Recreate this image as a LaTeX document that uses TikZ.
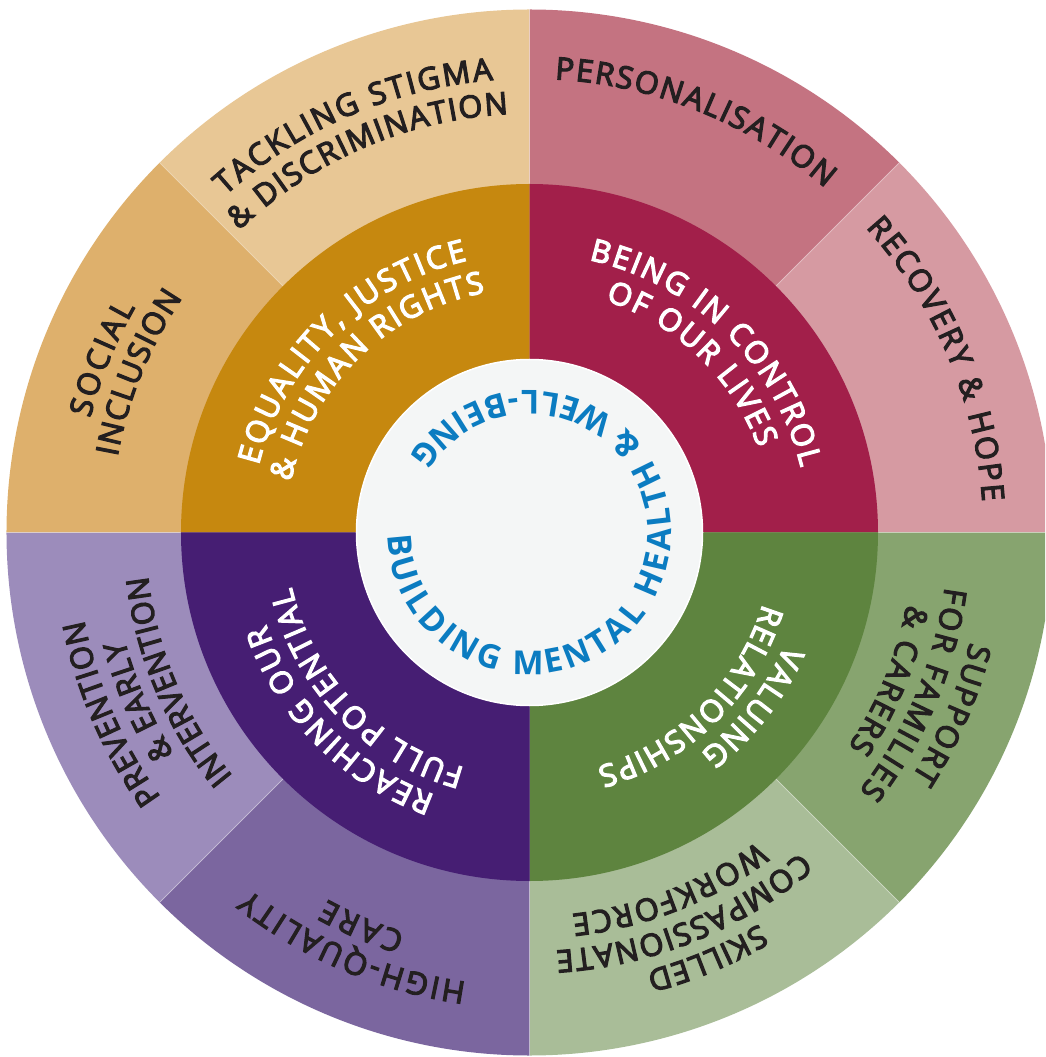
\documentclass[tikz,border=0pt]{standalone}
\usepackage{fontspec}
\usetikzlibrary{decorations.text}
\newfontfamily\labfont{Open Sans}[FakeBold=4]
\newfontfamily\cenfont{Open Sans}
\newcommand\lf{\labfont\fontsize{30.8}{36}\selectfont}
\newcommand\cf{\cenfont\bfseries\fontsize{33}{40}\selectfont}
\definecolor{cTack}{HTML}{E8C795}
\definecolor{cSoc}{HTML}{DEB06C}
\definecolor{cPers}{HTML}{C47381}
\definecolor{cRec}{HTML}{D69AA2}
\definecolor{cSup}{HTML}{87A46F}
\definecolor{cSkill}{HTML}{A9BD98}
\definecolor{cHigh}{HTML}{7B669F}
\definecolor{cPrev}{HTML}{9C8CBB}
\definecolor{cEq}{HTML}{C6880F}
\definecolor{cBeing}{HTML}{A21F4A}
\definecolor{cVal}{HTML}{5E843F}
\definecolor{cReach}{HTML}{461E73}
\definecolor{cCentre}{HTML}{F4F6F6}
\definecolor{cBlue}{HTML}{0B7CC1}
\definecolor{cDark}{HTML}{231F20}
\newlength\twid
% clockwise text, tops outward, spread between two angles
% #1 baseline radius, #2 start angle, #3 end angle, #4 colour, #5 format, #6 text
\newcommand\clab[6]{%
  \settowidth\twid{#5#6}%
  \pgfmathsetmacro\cmid{(#2+#3)/2}%
  \pgfmathsetmacro\chalf{max(abs(#2-#3)/2,0.5*\twid/#1*57.29578+0.3)}%
  \pgfmathsetmacro\cs{\cmid+\chalf}%
  \pgfmathsetmacro\ce{\cmid-\chalf}%
  \path[decorate,decoration={text along path,text align={fit to path},
        text color=#4,text={|#5|#6}}]
    (\cs:#1pt) arc[start angle=\cs,end angle=\ce,radius=#1pt];}
\tikzset{divider/.style={draw=white,draw opacity=.35,line width=.8pt}}
\begin{document}
\begin{tikzpicture}
\useasboundingbox (-529.5pt,-524.5pt) rectangle (515.5pt,532.5pt);
\clip (-529.5pt,-524.5pt) rectangle (515.5pt,532.5pt);
% outer ring
\foreach \a/\c in {90/cTack,45/cPers,0/cRec,-45/cSup,-90/cSkill,-135/cHigh,-180/cPrev,135/cSoc}
  \fill[\c] (0,0) -- (\a:523pt) arc[start angle=\a,end angle=\a+45,radius=523pt] -- cycle;
\foreach \a in {0,45,...,315}
  \draw[divider] (\a:348.5pt) -- (\a:523pt);
% inner ring
\foreach \a/\c in {90/cEq,0/cBeing,-90/cVal,-180/cReach}
  \fill[\c] (0,0) -- (\a:348.5pt) arc[start angle=\a,end angle=\a+90,radius=348.5pt] -- cycle;
% centre
\fill[cCentre,draw=white,line width=1.5pt] (0,0) circle[radius=173pt];
\path[decorate,decoration={text along path,text align={fit to path},text color=cBlue,
      text={|\cf|BUILDING MENTAL HEALTH {\&} WELL-BEING}}]
  (181:141.75pt) arc[start angle=181,end angle=507.7,radius=141.75pt];
% outer labels
\clab{454}{132.1}{94.6}{cDark}{\lf}{TACKLING STIGMA}
\clab{419}{133.9}{92.9}{cDark}{\lf}{{\&} DISCRIMINATION}
\clab{454}{86.8}{49.35}{cDark}{\lf}{PERSONALISATION}
\clab{454}{42.2}{3.9}{cDark}{\lf}{RECOVERY {\&} HOPE}
\clab{454}{165.4}{150.3}{cDark}{\lf}{SOCIAL}
\clab{419}{169.6}{145.9}{cDark}{\lf}{INCLUSION}
\clab{454}{-144.3}{-168.9}{cDark}{\lf}{PREVENTION}
\clab{419}{-148.1}{-165.2}{cDark}{\lf}{{\&} EARLY}
\clab{384}{-140.6}{-173.5}{cDark}{\lf}{INTERVENTION}
\clab{454}{-98}{-128.1}{cDark}{\lf}{HIGH-QUALITY}
\clab{419}{-107.3}{-118.9}{cDark}{\lf}{CARE}
\clab{454}{-59.6}{-75.1}{cDark}{\lf}{SKILLED}
\clab{419}{-49.7}{-86.4}{cDark}{\lf}{COMPASSIONATE}
\clab{384}{-53.6}{-83.7}{cDark}{\lf}{WORKFORCE}
\clab{454}{-14}{-32.6}{cDark}{\lf}{SUPPORT}
\clab{419}{-7.5}{-38.1}{cDark}{\lf}{FOR FAMILIES}
\clab{384}{-10.8}{-33.9}{cDark}{\lf}{{\&} CARERS}
% inner labels
\clab{279}{166.1}{102.9}{white}{\lf}{EQUALITY, JUSTICE}
\clab{244}{168}{100.5}{white}{\lf}{{\&} HUMAN RIGHTS}
\clab{279}{77.7}{13.5}{white}{\lf}{BEING IN CONTROL}
\clab{244}{71.9}{20.3}{white}{\lf}{OF OUR LIVES}
\clab{279}{-23.8}{-52.2}{white}{\lf}{VALUING}
\clab{244}{-17}{-74}{white}{\lf}{RELATIONSHIPS}
\clab{279}{-109.8}{-160.7}{white}{\lf}{REACHING OUR}
\clab{244}{-105.4}{-167}{white}{\lf}{FULL POTENTIAL}
\end{tikzpicture}
\end{document}
